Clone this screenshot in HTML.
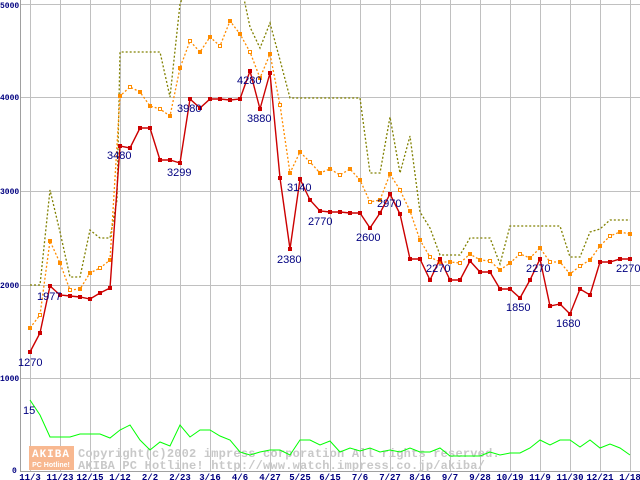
<!DOCTYPE html>
<html><head><meta charset="utf-8"><style>
html,body{margin:0;padding:0;background:#fff;width:640px;height:480px;overflow:hidden}
svg{display:block}
</style></head><body>
<svg id="s" width="640" height="480" xmlns="http://www.w3.org/2000/svg" font-family="Liberation Sans, sans-serif">
<g id="grid" stroke="#c0c0c0" stroke-width="1"></g>
<line x1="20.5" y1="0" x2="20.5" y2="472" stroke="#a0a0a0"/>
<line x1="20" y1="471.5" x2="640" y2="471.5" stroke="#a0a0a0"/>
<g font-size="8" font-weight="bold" fill="#000080" font-family="Liberation Mono, monospace">
<text x="0" y="8">5000</text><text x="0" y="100">4000</text><text x="0" y="194">3000</text><text x="0" y="288">2000</text><text x="0" y="381">1000</text><text x="12" y="473">0</text>
</g>
<g id="xl" font-size="9" font-weight="bold" fill="#000080" font-family="Liberation Mono, monospace" text-anchor="middle"></g>
<rect x="29" y="446" width="45" height="24" fill="#f8b890"/>
<text x="51" y="457" font-size="11" font-weight="bold" fill="#fff" text-anchor="middle" font-family="Liberation Mono, monospace" letter-spacing="1">AKIBA</text>
<text x="51" y="467" font-size="7" font-weight="bold" fill="#fff" text-anchor="middle">PC Hotline!</text>
<g font-family="Liberation Mono, monospace" font-size="12" font-weight="bold" fill="#c8c8c8" letter-spacing="0.2">
<text x="78" y="457">Copyright(c)2002 impress corporation All rights reserved.</text>
<text x="78" y="469">AKIBA PC Hotline!  http://www.watch.impress.co.jp/akiba/</text>
</g>
<g id="ser"></g>
<g font-size="11" fill="#000080">
<text x="18" y="366">1270</text><text x="37" y="300">1977</text><text x="107" y="159">3480</text><text x="167" y="176">3299</text>
<text x="177" y="112">3980</text><text x="237" y="84">4280</text><text x="247" y="122">3880</text><text x="287" y="191">3140</text>
<text x="277" y="263">2380</text><text x="308" y="225">2770</text><text x="356" y="241">2600</text><text x="377" y="207">2970</text>
<text x="426" y="272">2270</text><text x="506" y="311">1850</text><text x="526" y="272">2270</text><text x="556" y="327">1680</text>
<text x="616" y="272">2270</text><text x="23" y="414">15</text>
</g>
</svg>
<script>
var NS="http://www.w3.org/2000/svg";
function el(p,t,a){var e=document.createElementNS(NS,t);for(var k in a)e.setAttribute(k,a[k]);p.appendChild(e);return e;}
var g=document.getElementById("grid");
[4,97,191,285,378].forEach(function(y){el(g,"line",{x1:20,x2:640,y1:y+.5,y2:y+.5});});
for(var x=30;x<=630;x+=30)el(g,"line",{x1:x+.5,x2:x+.5,y1:0,y2:471});
var labs="11/3 11/23 12/15 1/12 2/2 2/23 3/16 4/6 4/27 5/25 6/15 7/6 7/27 8/16 9/7 9/28 10/19 11/9 11/30 12/21 1/18".split(" ");
var xl=document.getElementById("xl");
labs.forEach(function(l,i){var t=el(xl,"text",{x:30+i*30,y:480});t.textContent=l;});
var s=document.getElementById("ser");
var green=[400,415,437,437,437,434,434,434,438,430,425,440,450,442,446,425,437,430,430,436,440,452,455,452,450,450,455,440,440,445,441,452,448,451,448,452,450,452,448,452,452,448,456,456,456,456,452,455,453,453,448,440,445,440,440,447,440,448,444,448,455];
var olive=[[30,285],[40,285],[50,190],[60,232],[70,277],[80,277],[90,230],[100,238],[110,238],[117,200],[120,52],[160,52],[170,97],[180,4],[190,-20],[240,-20],[250,27],[260,48],[270,23],[280,60],[290,98],[360,98],[370,173],[380,173],[390,117],[400,173],[410,136],[420,212],[430,228],[440,255],[460,255],[470,238],[490,238],[500,264],[510,226],[560,226],[570,257],[580,257],[590,232],[600,229],[610,220],[630,220]];
var orange=[328,315,241,263,290,289,273,268,260,96,87,92,106,109,116,68,41,52,37,46,21,34,52,78,54,105,173,152,162,173,169,175,169,180,202,200,174,190,211,240,257,262,262,263,254,260,261,270,263,254,258,248,262,262,274,266,260,246,236,232,234];
var red=[352,333,286,295,296,297,299,293,288,146,148,128,128,160,160,163,99,108,99,99,100,99,71,109,73,178,249,179,200,211,212,212,213,213,228,213,194,214,259,259,280,259,280,280,261,272,272,289,289,298,280,259,306,304,314,289,295,262,262,259,259];
function pts(a){return a.map(function(y,i){return (30+i*10)+","+y;}).join(" ");}
el(s,"polyline",{points:pts(green),fill:"none",stroke:"#00ff00","stroke-width":1});
el(s,"polyline",{points:olive.map(function(p){return p.join(",")}).join(" "),fill:"none",stroke:"#808000","stroke-width":1.3,"stroke-dasharray":"2,2"});
el(s,"polyline",{points:pts(orange),fill:"none",stroke:"#ff8c00","stroke-width":1.3,"stroke-dasharray":"2,2"});
orange.forEach(function(y,i){el(s,"rect",{x:28.5+i*10,y:y-1.5,width:3,height:3,fill:(i%3==1?"#fff":"#ff8c00"),stroke:"#ff8c00","stroke-width":1});});
el(s,"polyline",{points:pts(red),fill:"none",stroke:"#cc0000","stroke-width":1.4});
red.forEach(function(y,i){el(s,"rect",{x:28+i*10,y:y-2,width:4,height:4,fill:"#cc0000"});});
</script>
</body></html>
